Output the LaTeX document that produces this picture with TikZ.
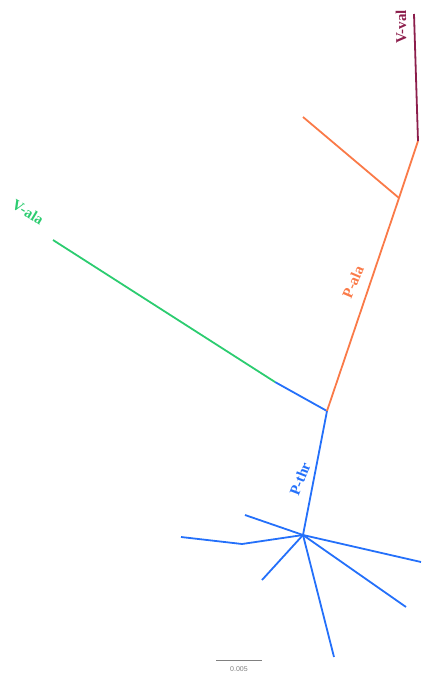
\documentclass[tikz,border=0pt]{standalone}
\usepackage{fontspec}
\setmainfont{Liberation Serif}
\setsansfont{Liberation Sans}
\definecolor{thrblue}{RGB}{36,112,250}
\definecolor{alaorange}{RGB}{250,122,72}
\definecolor{alagreen}{RGB}{44,204,112}
\definecolor{valred}{RGB}{140,30,76}
\begin{document}
\begin{tikzpicture}[
  x=1pt, y=-1pt,
  every node/.style={font=\fontsize{15}{17}\selectfont\bfseries},
  branch/.style={line width=1.8pt},
  cladelab/.style={inner sep=0pt},
  scalelab/.style={font=\sffamily\fontsize{7}{8}\selectfont, text=gray}
]
\useasboundingbox (0,0) rectangle (422,675);

% internal nodes
\coordinate (hub) at (303,535);
\coordinate (root) at (327,411);
\coordinate (split) at (275,382);
\coordinate (pala) at (399,198);
\coordinate (vval) at (418,141);
\coordinate (kink) at (242,544);

% leaves
\coordinate (v1) at (53,240);
\coordinate (p1) at (303,117);
\coordinate (v2) at (414,14);
\coordinate (t1) at (245,515);
\coordinate (t2) at (181,537);
\coordinate (t3) at (262,580);
\coordinate (t4) at (421,562);
\coordinate (t5) at (406,607);
\coordinate (t6) at (334,657);

% P-thr clade
\draw[branch, thrblue] (root) -- (hub);
\draw[branch, thrblue] (hub) -- (t1);
\draw[branch, thrblue] (hub) -- (kink) -- (t2);
\draw[branch, thrblue] (hub) -- (t3);
\draw[branch, thrblue] (hub) -- (t4);
\draw[branch, thrblue] (hub) -- (t5);
\draw[branch, thrblue] (hub) -- (t6);
\draw[branch, thrblue] (root) -- (split);

% V-ala
\draw[branch, alagreen] (split) -- (v1);

% P-ala and V-val
\draw[branch, alaorange] (root) -- (pala);
\draw[branch, alaorange] (pala) -- (p1);
\draw[branch, alaorange] (pala) -- (vval);
\draw[branch, valred] (vval) -- (v2);

% clade labels
\node[cladelab, text=valred, rotate=90] (lvval) at (401,27) {V-val};
\node[cladelab, text=alagreen, rotate=-31] (lvala) at (28,212) {V-ala};
\node[cladelab, text=alaorange, rotate=67] (lpala) at (353,282) {P-ala};
\node[cladelab, text=thrblue, rotate=69] (lpthr) at (300,479) {P-thr};

% scale bar
\coordinate (sb1) at (216,660);
\coordinate (sb2) at (262,660);
\draw[gray, line width=0.8pt] (sb1) -- (sb2);
\node[scalelab] (sblab) at (239,669) {0.005};
\end{tikzpicture}
\end{document}
